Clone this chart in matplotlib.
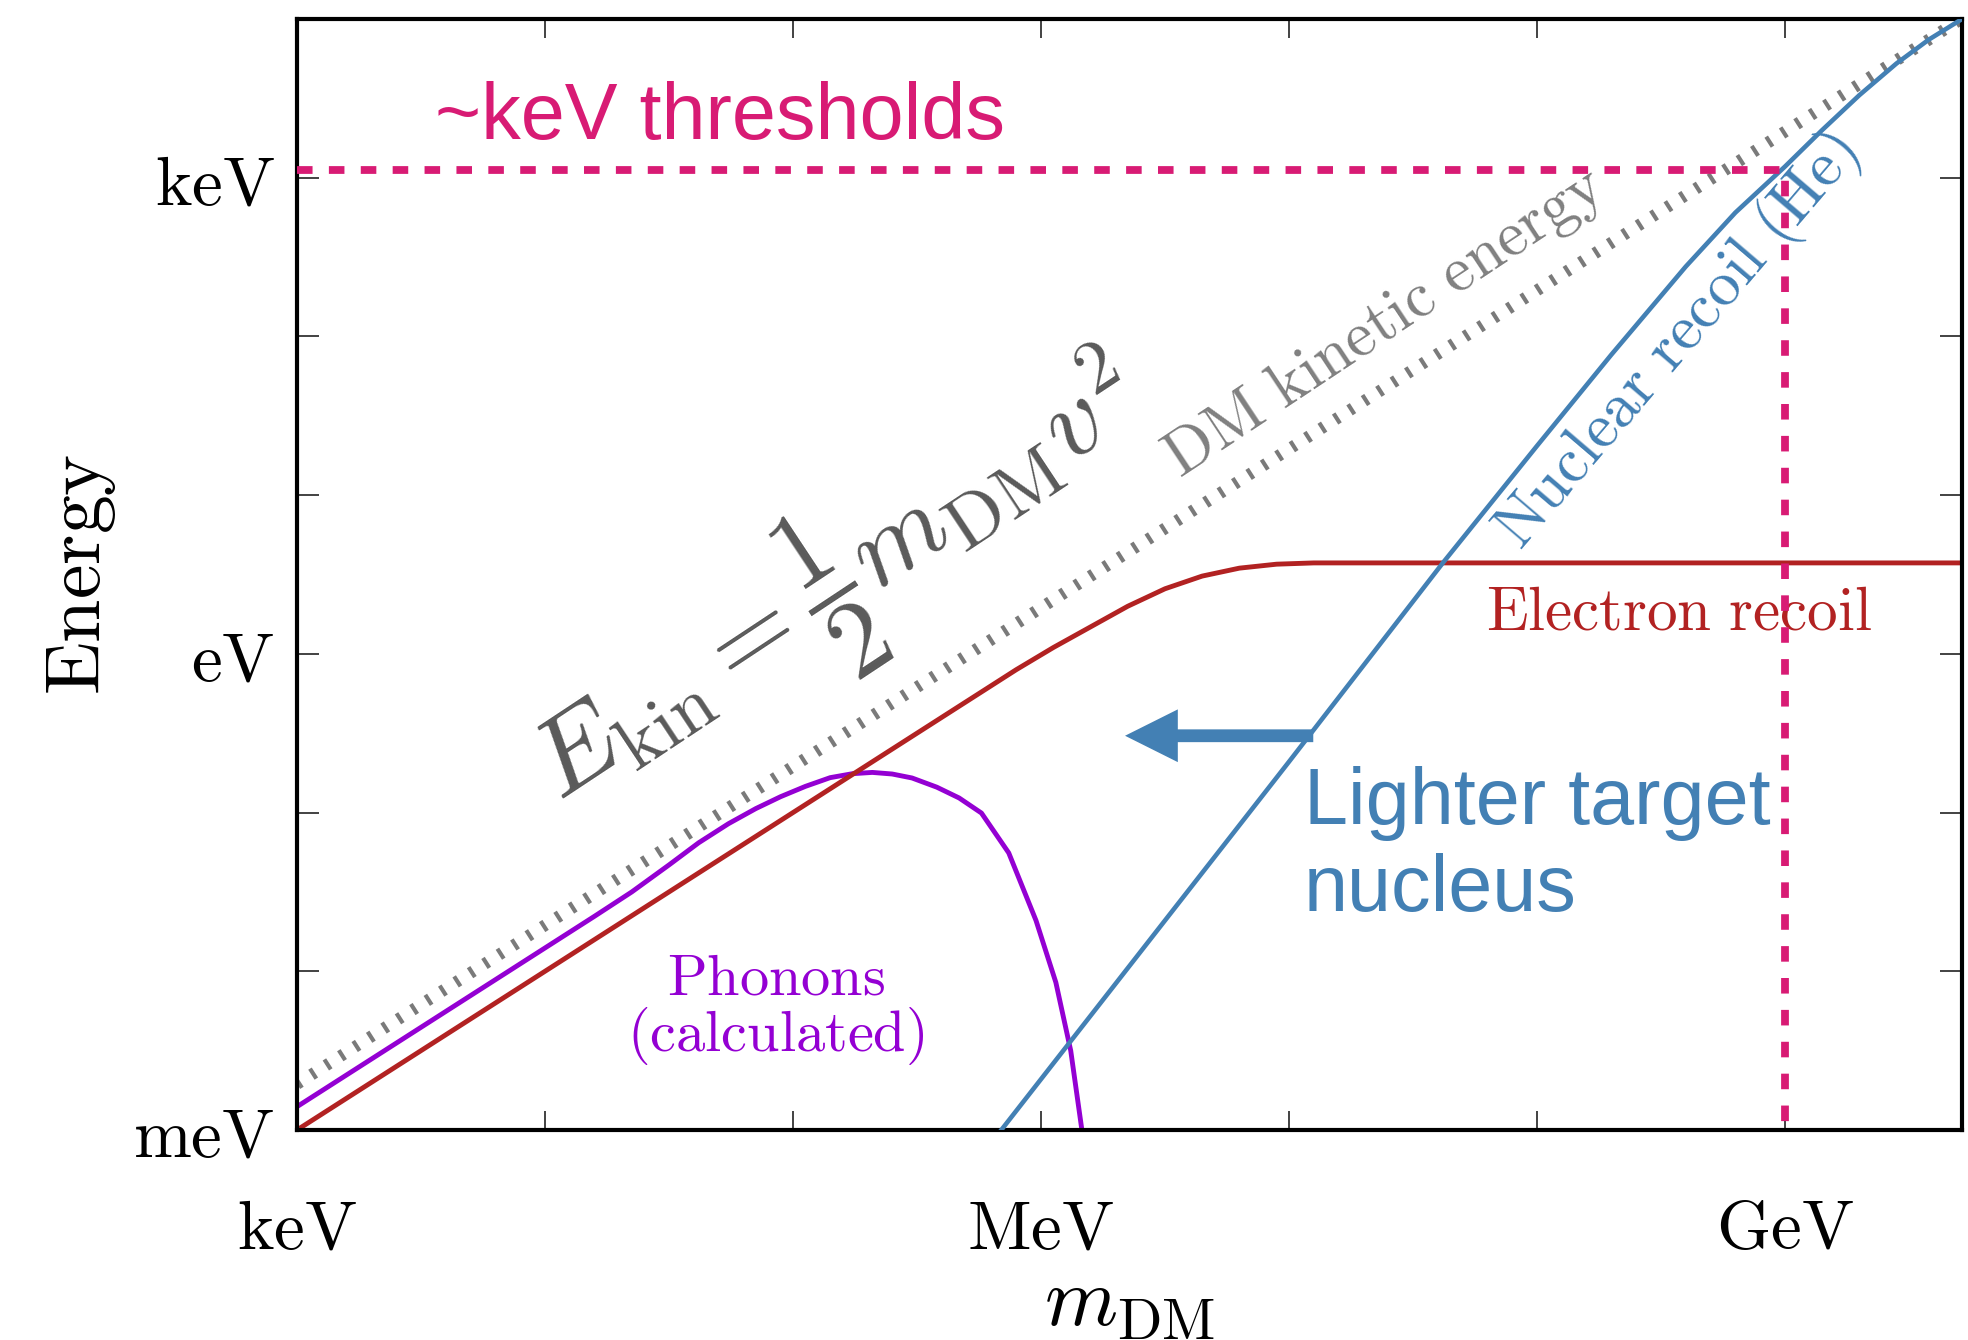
import matplotlib
matplotlib.use('Agg')
import matplotlib.pyplot as plt
import numpy as np

plt.rcParams['mathtext.fontset'] = 'cm'

# all values are log10 of eV: x = DM mass, y = energy
dm_kin_x = [3.0, 9.714]
dm_kin_y = [-2.71, 4.004]

electron_x = [3.0, 5.6, 5.9, 6.05, 6.2, 6.35, 6.5, 6.65, 6.8, 6.95, 7.1, 9.714]
electron_y = [-3.0, -0.4, -0.1, 0.04, 0.17, 0.30, 0.41, 0.49, 0.54, 0.565, 0.573, 0.573]

nuclear_x = [5.84, 6.5, 7.0, 7.62, 8.0, 8.3, 8.6, 8.8, 9.0, 9.15, 9.3, 9.45, 9.58, 9.714]
nuclear_y = [-3.0, -1.68, -0.68, 0.572, 1.31, 1.885, 2.44, 2.78, 3.07, 3.30, 3.52, 3.72, 3.87, 4.0]

phonon_x = [3.0, 3.6, 4.2, 4.35, 4.5, 4.62, 4.74, 4.85, 4.95, 5.05, 5.15, 5.24, 5.32,
            5.40, 5.48, 5.58, 5.67, 5.76, 5.87, 5.98, 6.06, 6.12, 6.165]
phonon_y = [-2.853, -2.253, -1.653, -1.50, -1.33, -1.19, -1.07, -0.975, -0.90, -0.835, -0.78, -0.755, -0.747,
            -0.757, -0.782, -0.84, -0.908, -1.003, -1.254, -1.68, -2.07, -2.5, -3.0]

threshold_E = 3.046
threshold_m = 9.0

arrow_tip = (6.339, -0.516)
arrow_tail = (7.098, -0.516)

x_ticks = [3, 4, 5, 6, 7, 8, 9]
x_labels = ['keV', '', '', 'MeV', '', '', 'GeV']
y_ticks = [-3, -2, -1, 0, 1, 2, 3]
y_labels = ['meV', '', '', 'eV', '', '', 'keV']

gray = '#7a7a7a'
dark_gray = '#5a5a5a'
blue = '#4380b4'
red = '#b22222'
purple = '#9400d3'
pink = '#d81b74'


def p(v):
    return 10.0 ** np.asarray(v, dtype=float)


fig = plt.figure(figsize=(19.68, 13.40), dpi=100)
ax = fig.add_axes([297 / 1968, 1 - 1130 / 1340, 1665 / 1968, 1111 / 1340])
ax.set_xscale('log')
ax.set_yscale('log')

ax.plot(p(dm_kin_x), p(dm_kin_y), color=gray, lw=8.5, dashes=(0.35, 1.1), zorder=1)
ax.plot(p(phonon_x), p(phonon_y), color=purple, lw=3.5, zorder=2)
ax.plot(p(electron_x), p(electron_y), color=red, lw=3.5, zorder=2)
ax.plot(p(nuclear_x), p(nuclear_y), color=blue, lw=3.3, zorder=3)
ax.plot(p([3.0, threshold_m, threshold_m]), p([threshold_E, threshold_E, -3.0]),
        color=pink, lw=5.6, dashes=(2.0, 2.1), zorder=5)

ax.annotate('', xy=(p(arrow_tip[0]), p(arrow_tip[1])), xytext=(p(arrow_tail[0]), p(arrow_tail[1])),
            arrowprops=dict(arrowstyle='simple,head_length=3.8,head_width=3.8,tail_width=0.92',
                            mutation_scale=10, color=blue, lw=0, shrinkA=0, shrinkB=0), zorder=4)

ax.set_xlim(p(3.0), p(9.714))
ax.set_ylim(p(-3.0), p(4.0))

ax.set_xticks(p(x_ticks))
ax.set_xticklabels([r'$\mathrm{%s}$' % s if s else '' for s in x_labels])
ax.set_yticks(p(y_ticks))
ax.set_yticklabels([r'$\mathrm{%s}$' % s if s else '' for s in y_labels])
ax.xaxis.set_minor_locator(matplotlib.ticker.NullLocator())
ax.yaxis.set_minor_locator(matplotlib.ticker.NullLocator())
ax.tick_params(which='major', direction='in', top=True, right=True, width=1.2, color='#222222')
ax.tick_params(axis='x', length=14, pad=47, labelsize=50)
ax.tick_params(axis='y', length=16, pad=16, labelsize=50)
for s in ax.spines.values():
    s.set_linewidth(3)

ax.set_xlabel(r'$m_{\mathrm{DM}}$', fontsize=60)
ax.xaxis.set_label_coords(0.5, -0.119)
ax.set_ylabel(r'$\mathrm{Energy}$', fontsize=56)
ax.yaxis.set_label_coords(-0.1075, 0.5)

sans = ['Liberation Sans', 'DejaVu Sans']
ax.text(p(3.558), p(3.242), '~keV thresholds', color=pink, fontsize=57, family=sans,
        ha='left', va='baseline')
ax.text(p(7.06), p(-0.709), 'Lighter target\nnucleus', color=blue, fontsize=57, family=sans,
        ha='left', va='top')

ax.text(p(7.794), p(0.151), r'$\mathrm{Electron\ recoil}$', color=red, fontsize=44,
        ha='left', va='baseline', zorder=3)
ax.text(p(4.931), p(-1.865), r'$\mathrm{Phonons}$' + '\n' + r'$\mathrm{(calculated)}$',
        color=purple, fontsize=42, ha='center', va='top', multialignment='center', linespacing=0.95)
ax.text(p(6.56), p(1.11), r'$\mathrm{DM\ kinetic\ energy}$', color='#808080', fontsize=46,
        rotation=33.5, rotation_mode='anchor', ha='left', va='baseline')
ax.text(p(7.931), p(0.644), r'$\mathrm{Nuclear\ recoil\ (He)}$', color=blue, fontsize=46,
        rotation=49.5, rotation_mode='anchor', ha='left', va='baseline')
ax.text(p(4.06), p(-0.93), r'$E_{\mathrm{kin}} = \dfrac{1}{2}m_{\mathrm{DM}}v^2$', color=dark_gray,
        fontsize=78, rotation=33.5, rotation_mode='anchor', ha='left', va='baseline')

fig.savefig('out.png', dpi=100)
